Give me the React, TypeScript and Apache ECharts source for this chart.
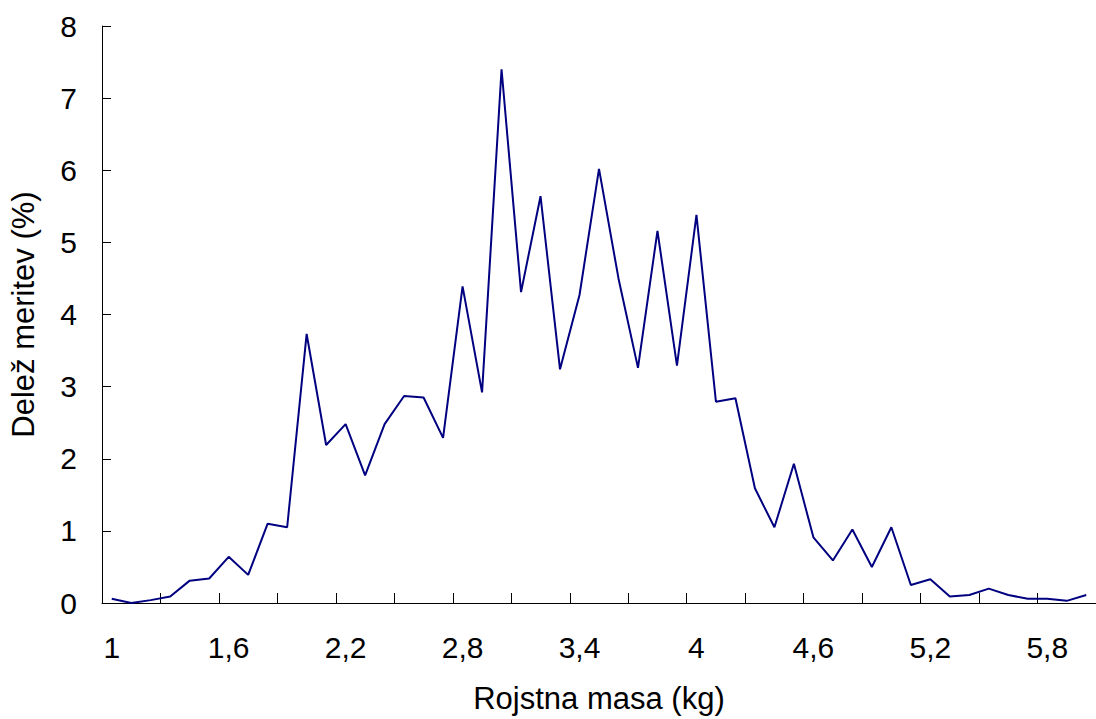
import React, { useEffect, useRef } from "react";
import * as echarts from "echarts";

const categories: string[] = [
  "1", "1,1", "1,2", "1,3", "1,4", "1,5", "1,6", "1,7", "1,8", "1,9",
  "2", "2,1", "2,2", "2,3", "2,4", "2,5", "2,6", "2,7", "2,8", "2,9",
  "3", "3,1", "3,2", "3,3", "3,4", "3,5", "3,6", "3,7", "3,8", "3,9",
  "4", "4,1", "4,2", "4,3", "4,4", "4,5", "4,6", "4,7", "4,8", "4,9",
  "5", "5,1", "5,2", "5,3", "5,4", "5,5", "5,6", "5,7", "5,8", "5,9",
  "6",
];

const shares: number[] = [
  0.06, 0.0, 0.04, 0.09, 0.31, 0.34, 0.64, 0.39, 1.1, 1.05,
  3.73, 2.19, 2.48, 1.77, 2.48, 2.87, 2.85, 2.29, 4.39, 2.92,
  7.4, 4.31, 5.64, 3.24, 4.27, 6.02, 4.5, 3.26, 5.16, 3.29,
  5.38, 2.79, 2.84, 1.59, 1.05, 1.93, 0.91, 0.59, 1.02, 0.5,
  1.05, 0.25, 0.33, 0.09, 0.11, 0.2, 0.11, 0.06, 0.06, 0.03,
  0.11,
];

const xTitle = "Rojstna masa (kg)";
const yTitle = "Delež meritev (%)";

const FONT = "'Liberation Sans', Arial, sans-serif";

export default function App() {
  const ref = useRef<HTMLDivElement>(null);
  useEffect(() => {
    if (!ref.current) return;
    const chart = echarts.init(ref.current, null, { renderer: "svg" });
    chart.setOption({
      animation: false,
      backgroundColor: "#ffffff",
      grid: { left: 102, top: 26, bottom: 114, width: 997.6, containLabel: false },
      xAxis: {
        type: "category",
        data: categories,
        boundaryGap: true,
        name: xTitle,
        nameLocation: "middle",
        nameGap: 80,
        nameTextStyle: { fontFamily: FONT, fontSize: 31, color: "#000" },
        axisLine: { show: true, lineStyle: { color: "#000", width: 1 } },
        axisTick: { show: true, inside: true, length: 10, interval: 2, lineStyle: { color: "#000" } },
        axisLabel: { interval: 5, margin: 29, fontFamily: FONT, fontSize: 30, color: "#000" },
        splitLine: { show: false },
      },
      yAxis: {
        type: "value",
        min: 0,
        max: 8,
        interval: 1,
        name: yTitle,
        nameLocation: "middle",
        nameGap: 63,
        nameRotate: 90,
        nameTextStyle: { fontFamily: FONT, fontSize: 31, color: "#000" },
        axisLine: { show: true, lineStyle: { color: "#000", width: 1 } },
        axisTick: { show: true, inside: true, length: 9, lineStyle: { color: "#000" } },
        axisLabel: { margin: 25, fontFamily: FONT, fontSize: 30, color: "#000" },
        splitLine: { show: false },
      },
      series: [
        {
          type: "line",
          data: shares,
          symbol: "none",
          lineStyle: { color: "#000080", width: 2 },
          itemStyle: { color: "#000080" },
        },
      ],
    });
    return () => chart.dispose();
  }, []);
  return (
    <div
      ref={ref}
      style={{ position: "absolute", left: 0, top: 0, width: 1096, height: 719 }}
    />
  );
}
